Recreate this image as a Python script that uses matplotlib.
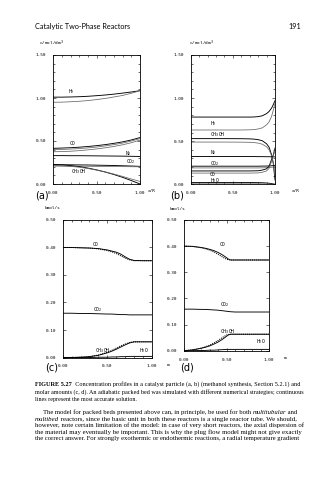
import matplotlib

matplotlib.use("Agg")
import matplotlib.pyplot as plt
from matplotlib.ticker import MultipleLocator, FormatStrFormatter

W, H = 335, 480

# ---- panel (a): particle profiles, c / mol/dm3 against x/R
xa = [0.0, 0.1, 0.2, 0.3, 0.4, 0.5, 0.6, 0.7, 0.8, 0.9, 1.0]
a_h2 = [1.010, 1.010, 1.012, 1.015, 1.020, 1.027, 1.035, 1.045, 1.057, 1.070, 1.085]
a_h2_alt = [0.950, 0.952, 0.956, 0.962, 0.970, 0.982, 0.995, 1.012, 1.030, 1.055, 1.085]
a_co = [0.415, 0.418, 0.422, 0.428, 0.436, 0.446, 0.458, 0.473, 0.490, 0.512, 0.540]
a_co_alt1 = [0.400, 0.402, 0.406, 0.412, 0.420, 0.430, 0.443, 0.458, 0.476, 0.500, 0.528]
a_co_alt2 = [0.375, 0.377, 0.381, 0.388, 0.397, 0.408, 0.421, 0.437, 0.456, 0.480, 0.510]
a_n2 = [0.330, 0.330, 0.329, 0.329, 0.328, 0.327, 0.326, 0.325, 0.324, 0.322, 0.320]
a_co2 = [0.225, 0.224, 0.223, 0.222, 0.221, 0.219, 0.217, 0.215, 0.212, 0.209, 0.205]
a_co2_alt = [0.208, 0.208, 0.207, 0.207, 0.206, 0.205, 0.204, 0.203, 0.202, 0.201, 0.200]
a_meoh = [0.225, 0.222, 0.214, 0.202, 0.185, 0.164, 0.139, 0.110, 0.077, 0.040, 0.000]
a_meoh_alt = [0.215, 0.212, 0.205, 0.195, 0.180, 0.162, 0.140, 0.115, 0.088, 0.058, 0.030]

# ---- panel (b): steep particle profiles
xb = [0.0, 0.2, 0.4, 0.6, 0.7, 0.75, 0.8, 0.85, 0.9, 0.93, 0.96, 0.98, 1.0]
b_h2 = [0.780, 0.780, 0.780, 0.780, 0.780, 0.781, 0.785, 0.795, 0.820, 0.845, 0.885, 0.925, 0.970]
b_h2_alt = [0.630, 0.630, 0.630, 0.630, 0.632, 0.635, 0.642, 0.655, 0.690, 0.725, 0.790, 0.860, 0.940]
b_meoh = [0.530, 0.530, 0.530, 0.529, 0.527, 0.524, 0.518, 0.505, 0.470, 0.430, 0.340, 0.240, 0.050]
b_meoh_alt = [0.490, 0.490, 0.490, 0.489, 0.487, 0.484, 0.478, 0.465, 0.435, 0.400, 0.330, 0.250, 0.100]
b_n2 = [0.322, 0.322, 0.322, 0.322, 0.322, 0.322, 0.321, 0.321, 0.320, 0.320, 0.319, 0.318, 0.318]
b_co2 = [0.210, 0.210, 0.210, 0.210, 0.210, 0.210, 0.210, 0.211, 0.212, 0.213, 0.215, 0.217, 0.220]
b_co2_alt = [0.190, 0.190, 0.190, 0.190, 0.190, 0.190, 0.190, 0.191, 0.193, 0.195, 0.198, 0.200, 0.205]
b_co = [0.155, 0.155, 0.155, 0.155, 0.155, 0.156, 0.157, 0.165, 0.180, 0.210, 0.290, 0.340, 0.420]
b_co_alt = [0.130, 0.130, 0.130, 0.130, 0.130, 0.131, 0.132, 0.140, 0.155, 0.185, 0.270, 0.330, 0.400]
b_h2o = [0.020, 0.020, 0.020, 0.020, 0.020, 0.020, 0.019, 0.018, 0.015, 0.012, 0.008, 0.004, 0.000]
b_h2o_alt = [0.006, 0.006, 0.006, 0.006, 0.006, 0.006, 0.006, 0.005, 0.004, 0.003, 0.002, 0.001, 0.000]

# ---- panel (c): molar flows along the bed, kmol/s against m
xc = [0.0, 0.1, 0.2, 0.3, 0.4, 0.5, 0.55, 0.6, 0.65, 0.7, 0.75, 0.8, 0.9, 1.0]
c_co = [0.400, 0.400, 0.399, 0.398, 0.396, 0.391, 0.387, 0.383, 0.376, 0.366, 0.357, 0.353, 0.352, 0.352]
c_co_alt = [0.400, 0.400, 0.399, 0.398, 0.395, 0.389, 0.384, 0.378, 0.370, 0.361, 0.355, 0.352, 0.352, 0.352]
c_co2 = [0.161, 0.161, 0.160, 0.160, 0.159, 0.158, 0.158, 0.157, 0.156, 0.156, 0.155, 0.155, 0.155, 0.155]
c_meoh = [0.000, 0.000, 0.001, 0.003, 0.008, 0.017, 0.023, 0.030, 0.038, 0.046, 0.053, 0.057, 0.057, 0.057]
c_meoh_alt = [0.000, 0.000, 0.001, 0.003, 0.009, 0.019, 0.026, 0.034, 0.042, 0.049, 0.055, 0.057, 0.057, 0.057]
c_h2o = [0.000, 0.000, 0.000, 0.000, 0.001, 0.001, 0.002, 0.002, 0.003, 0.003, 0.004, 0.004, 0.004, 0.004]

# ---- panel (d): molar flows, shorter reaction zone
xd = [0.0, 0.1, 0.2, 0.25, 0.3, 0.35, 0.4, 0.45, 0.5, 0.52, 0.55, 0.6, 0.8, 1.0]
d_co = [0.400, 0.399, 0.395, 0.392, 0.388, 0.383, 0.376, 0.367, 0.356, 0.351, 0.347, 0.347, 0.347, 0.347]
d_co_alt = [0.400, 0.399, 0.394, 0.390, 0.385, 0.378, 0.369, 0.359, 0.350, 0.348, 0.347, 0.347, 0.347, 0.347]
d_co2 = [0.159, 0.159, 0.158, 0.158, 0.157, 0.156, 0.155, 0.153, 0.151, 0.150, 0.149, 0.148, 0.148, 0.148]
d_meoh = [0.000, 0.003, 0.009, 0.013, 0.018, 0.025, 0.033, 0.043, 0.055, 0.060, 0.063, 0.063, 0.063, 0.063]
d_meoh_alt = [0.000, 0.003, 0.010, 0.015, 0.021, 0.029, 0.039, 0.050, 0.060, 0.062, 0.063, 0.063, 0.063, 0.063]
d_h2o = [0.000, 0.000, 0.001, 0.001, 0.002, 0.002, 0.003, 0.004, 0.005, 0.005, 0.005, 0.005, 0.005, 0.005]

# text runs: (string, style) pieces of each printed line
caption_lines = [
    [("FIGURE 5.27", "bold"), ("  Concentration profiles in a catalyst particle (a, b) (methanol synthesis, Section 5.2.1) and", "normal")],
    [("molar amounts (c, d). An adiabatic packed bed was simulated with different numerical strategies; continuous", "normal")],
    [("lines represent the most accurate solution.", "normal")],
]
body_lines = [
    [("The model for packed beds presented above can, in principle, be used for both ", "normal"),
     ("multitubular", "italic"), (" and", "normal")],
    [("multibed", "italic"),
     (" reactors, since the basic unit in both these reactors is a single reactor tube. We should,", "normal")],
    [("however, note certain limitation of the model: in case of very short reactors, the axial dispersion of", "normal")],
    [("the material may eventually be important. This is why the plug flow model might not give exactly", "normal")],
    [("the correct answer. For strongly exothermic or endothermic reactions, a radial temperature gradient", "normal")],
]

SOLID = dict(color="black", lw=0.65)
ALT = dict(color="0.4", lw=0.55)
DOT = dict(color="black", lw=0.75, ls=(0, (1, 1)))
MONO = "DejaVu Sans Mono"


def px_axes(fig, left, top, right, bottom):
    return fig.add_axes([left / W, 1 - bottom / H, (right - left) / W, (bottom - top) / H])


def style_axes(ax, ymax, ymajor, yminor):
    ax.set_xlim(0, 1)
    ax.set_ylim(0, ymax)
    ax.xaxis.set_major_locator(MultipleLocator(0.5))
    ax.xaxis.set_minor_locator(MultipleLocator(0.1))
    ax.yaxis.set_major_locator(MultipleLocator(ymajor))
    ax.yaxis.set_minor_locator(MultipleLocator(yminor))
    ax.xaxis.set_major_formatter(FormatStrFormatter("%.2f"))
    ax.yaxis.set_major_formatter(FormatStrFormatter("%.2f"))
    ax.tick_params(which="both", direction="in", top=True, right=True, width=0.4,
                   labelsize=3.2, colors="black")
    ax.tick_params(which="major", length=2.5, pad=5)
    ax.tick_params(which="minor", length=1.6)
    for lab in ax.get_xticklabels() + ax.get_yticklabels():
        lab.set_family(MONO)
    for sp in ax.spines.values():
        sp.set_linewidth(0.6)


def label(ax, x, y, s):
    ax.text(x, y, s, fontsize=3.4, family=MONO, ha="left", va="center")


def lay_line(fig, runs, x0, x1, y, size, justify=True):
    # one text per style run; justified lines get their size nudged to fill x0..x1
    r = fig.canvas.get_renderer()
    texts = []
    for s, style in runs:
        texts.append(fig.text(0, 1 - y / H, s, fontsize=size, family="Liberation Serif",
                              style="italic" if style == "italic" else "normal",
                              weight="bold" if style == "bold" else "normal",
                              va="baseline"))
    space = size * 0.25 / 0.72

    def total():
        return sum(t.get_window_extent(r).width for t in texts) + space * (len(texts) - 1) * 0

    if justify:
        for _ in range(2):
            k = (x1 - x0) / total()
            k = min(max(k, 0.85), 1.15)
            for t in texts:
                t.set_fontsize(t.get_fontsize() * k)
    x = x0
    for t in texts:
        t.set_x(x / W)
        x += t.get_window_extent(r).width


fig = plt.figure(figsize=(W / 100, H / 100), dpi=100)
fig.patch.set_facecolor("white")

fig.text(35 / W, 1 - 29 / H, "Catalytic Two-Phase Reactors", fontsize=5.2, family="Lato",
         va="baseline")
fig.text(301 / W, 1 - 29 / H, "191", fontsize=5.2, family="Lato", ha="right", va="baseline")

# (a)
ax = px_axes(fig, 53.3, 55, 140, 184)
style_axes(ax, 1.5, 0.5, 0.1)
ax.plot(xa, a_h2, **SOLID)
ax.plot(xa, a_h2_alt, **ALT)
ax.plot(xa, a_co, **SOLID)
ax.plot(xa, a_co_alt1, **ALT)
ax.plot(xa, a_co_alt2, **ALT)
ax.plot(xa, a_n2, **SOLID)
ax.plot(xa, a_co2, **SOLID)
ax.plot(xa, a_co2_alt, **ALT)
ax.plot(xa, a_meoh, **SOLID)
ax.plot(xa, a_meoh_alt, **ALT)
label(ax, 0.17, 1.07, "H$_2$")
label(ax, 0.19, 0.47, "CO")
label(ax, 0.83, 0.355, "N$_2$")
label(ax, 0.84, 0.265, "CO$_2$")
label(ax, 0.20, 0.145, "CH$_3$OH")
ax.text(-0.16, 1.075, "c/mol/dm$^3$", transform=ax.transAxes, fontsize=3.2, family=MONO)
ax.text(1.09, -0.04, "x/R", transform=ax.transAxes, fontsize=3.2, family=MONO, va="top")
fig.text(35 / W, 1 - 196 / H, "(a)", fontsize=7.0, family="DejaVu Sans", va="center")

# (b)
ax = px_axes(fig, 190.7, 55, 275, 184.3)
style_axes(ax, 1.5, 0.5, 0.1)
ax.plot(xb, b_h2, **SOLID)
ax.plot(xb, b_h2_alt, **ALT)
ax.plot(xb, b_meoh, **SOLID)
ax.plot(xb, b_meoh_alt, **ALT)
ax.plot(xb, b_n2, **SOLID)
ax.plot(xb, b_co2, **SOLID)
ax.plot(xb, b_co2_alt, **ALT)
ax.plot(xb, b_co, **SOLID)
ax.plot(xb, b_co_alt, **ALT)
ax.plot(xb, b_h2o, **SOLID)
ax.plot(xb, b_h2o_alt, **ALT)
label(ax, 0.23, 0.71, "H$_2$")
label(ax, 0.23, 0.575, "CH$_3$OH")
label(ax, 0.23, 0.37, "N$_2$")
label(ax, 0.23, 0.245, "CO$_2$")
label(ax, 0.23, 0.112, "CO")
label(ax, 0.23, 0.045, "H$_2$O")
ax.text(-0.02, 1.075, "c/mol/dm$^3$", transform=ax.transAxes, fontsize=3.2, family=MONO)
ax.text(1.2, -0.04, "x/R", transform=ax.transAxes, fontsize=3.2, family=MONO, va="top")
fig.text(170 / W, 1 - 196 / H, "(b)", fontsize=7.0, family="DejaVu Sans", va="center")

# (c)
ax = px_axes(fig, 62.7, 220, 152, 357.5)
style_axes(ax, 0.5, 0.1, 0.1)
ax.plot(xc, c_co, **SOLID)
ax.plot(xc, c_co_alt, **DOT)
ax.plot(xc, c_co2, **SOLID)
ax.plot(xc, c_meoh, **SOLID)
ax.plot(xc, c_meoh_alt, **DOT)
ax.plot(xc, c_h2o, **SOLID)
label(ax, 0.34, 0.41, "CO")
label(ax, 0.34, 0.175, "CO$_2$")
label(ax, 0.36, 0.025, "CH$_3$OH")
label(ax, 0.86, 0.025, "H$_2$O")
ax.text(-0.2, 1.08, "kmol/s", transform=ax.transAxes, fontsize=3.2, family=MONO)
ax.text(1.17, -0.04, "m", transform=ax.transAxes, fontsize=3.2, family=MONO, va="top")
fig.text(45 / W, 1 - 368 / H, "(c)", fontsize=7.0, family="DejaVu Sans", va="center")

# (d)
ax = px_axes(fig, 184, 220, 269, 350.7)
style_axes(ax, 0.5, 0.1, 0.1)
ax.plot(xd, d_co, **SOLID)
ax.plot(xd, d_co_alt, **DOT)
ax.plot(xd, d_co2, **SOLID)
ax.plot(xd, d_meoh, **SOLID)
ax.plot(xd, d_meoh_alt, **DOT)
ax.plot(xd, d_h2o, **SOLID)
label(ax, 0.42, 0.405, "CO")
label(ax, 0.42, 0.175, "CO$_2$")
label(ax, 0.42, 0.075, "CH$_3$OH")
label(ax, 0.85, 0.035, "H$_2$O")
ax.text(-0.17, 1.08, "kmol/s", transform=ax.transAxes, fontsize=3.2, family=MONO)
ax.text(1.17, -0.04, "m", transform=ax.transAxes, fontsize=3.2, family=MONO, va="top")
fig.text(180 / W, 1 - 368 / H, "(d)", fontsize=7.0, family="DejaVu Sans", va="center")

# caption and running text
for i, runs in enumerate(caption_lines):
    lay_line(fig, runs, 35, 300, 385.5 + 7.8 * i, 4.35, justify=i < len(caption_lines) - 1)
for i, runs in enumerate(body_lines):
    x0 = 43 if i == 0 else 35
    lay_line(fig, runs, x0, 300, 414 + 6.6 * i, 4.7)

fig.savefig("out.png", dpi=100)
